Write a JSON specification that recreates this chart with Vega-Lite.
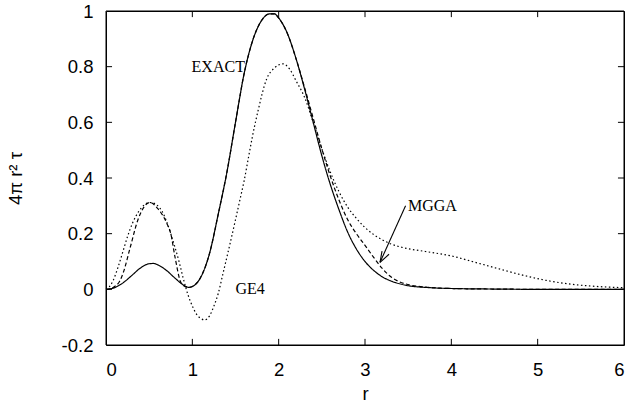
{
  "$schema": "https://vega.github.io/schema/vega-lite/v6.json",
  "width": 518,
  "height": 334,
  "autosize": {"type": "none"},
  "padding": {"left": 106, "top": 11, "right": 17, "bottom": 59},
  "background": "white",
  "config": {
    "view": {"stroke": "#000000", "strokeWidth": 1},
    "axis": {
      "domain": false,
      "grid": false,
      "ticks": false,
      "labelFont": "Liberation Sans",
      "labelFontSize": 18.5,
      "labelColor": "black",
      "titleFont": "Liberation Sans",
      "titleFontSize": 18.5,
      "titleFontWeight": "normal",
      "titleColor": "black"
    }
  },
  "resolve": {"axis": {"x": "independent", "y": "independent"}},
  "layer": [
    {
      "data": {"values": [
        {"model":"EXACT","r":0,"v":0},{"model":"EXACT","r":0.1,"v":0.006},{"model":"EXACT","r":0.2,"v":0.024},{"model":"EXACT","r":0.3,"v":0.05},{"model":"EXACT","r":0.4,"v":0.077},{"model":"EXACT","r":0.5,"v":0.092},{"model":"EXACT","r":0.55,"v":0.093},{"model":"EXACT","r":0.6,"v":0.088},{"model":"EXACT","r":0.7,"v":0.068},{"model":"EXACT","r":0.8,"v":0.04},{"model":"EXACT","r":0.9,"v":0.015},{"model":"EXACT","r":0.96,"v":0.007},{"model":"EXACT","r":1.0,"v":0.01},{"model":"EXACT","r":1.1,"v":0.045},{"model":"EXACT","r":1.2,"v":0.13},{"model":"EXACT","r":1.3,"v":0.27},{"model":"EXACT","r":1.4,"v":0.42},{"model":"EXACT","r":1.5,"v":0.6},{"model":"EXACT","r":1.6,"v":0.775},{"model":"EXACT","r":1.7,"v":0.895},{"model":"EXACT","r":1.8,"v":0.965},{"model":"EXACT","r":1.9,"v":0.99},{"model":"EXACT","r":1.95,"v":0.99},{"model":"EXACT","r":2.0,"v":0.975},{"model":"EXACT","r":2.1,"v":0.92},{"model":"EXACT","r":2.2,"v":0.83},{"model":"EXACT","r":2.3,"v":0.72},{"model":"EXACT","r":2.4,"v":0.6},{"model":"EXACT","r":2.5,"v":0.48},{"model":"EXACT","r":2.6,"v":0.375},{"model":"EXACT","r":2.7,"v":0.285},{"model":"EXACT","r":2.8,"v":0.205},{"model":"EXACT","r":2.9,"v":0.145},{"model":"EXACT","r":3.0,"v":0.1},{"model":"EXACT","r":3.1,"v":0.068},{"model":"EXACT","r":3.2,"v":0.045},{"model":"EXACT","r":3.3,"v":0.03},{"model":"EXACT","r":3.4,"v":0.02},{"model":"EXACT","r":3.5,"v":0.013},{"model":"EXACT","r":3.7,"v":0.007},{"model":"EXACT","r":4.0,"v":0.003},{"model":"EXACT","r":4.5,"v":0.001},{"model":"EXACT","r":5.0,"v":0},{"model":"EXACT","r":6.0,"v":0},
        {"model":"MGGA","r":0,"v":0},{"model":"MGGA","r":0.05,"v":0.002},{"model":"MGGA","r":0.1,"v":0.01},{"model":"MGGA","r":0.16,"v":0.03},{"model":"MGGA","r":0.2,"v":0.06},{"model":"MGGA","r":0.28,"v":0.15},{"model":"MGGA","r":0.37,"v":0.25},{"model":"MGGA","r":0.45,"v":0.3},{"model":"MGGA","r":0.51,"v":0.312},{"model":"MGGA","r":0.6,"v":0.29},{"model":"MGGA","r":0.7,"v":0.24},{"model":"MGGA","r":0.75,"v":0.2},{"model":"MGGA","r":0.8,"v":0.115},{"model":"MGGA","r":0.86,"v":0.03},{"model":"MGGA","r":0.9,"v":0.013},{"model":"MGGA","r":0.96,"v":0.007},{"model":"MGGA","r":1.0,"v":0.01},{"model":"MGGA","r":1.1,"v":0.045},{"model":"MGGA","r":1.2,"v":0.13},{"model":"MGGA","r":1.3,"v":0.27},{"model":"MGGA","r":1.4,"v":0.42},{"model":"MGGA","r":1.5,"v":0.6},{"model":"MGGA","r":1.6,"v":0.775},{"model":"MGGA","r":1.7,"v":0.895},{"model":"MGGA","r":1.8,"v":0.965},{"model":"MGGA","r":1.9,"v":0.99},{"model":"MGGA","r":1.95,"v":0.99},{"model":"MGGA","r":2.0,"v":0.975},{"model":"MGGA","r":2.1,"v":0.92},{"model":"MGGA","r":2.2,"v":0.83},{"model":"MGGA","r":2.3,"v":0.725},{"model":"MGGA","r":2.4,"v":0.615},{"model":"MGGA","r":2.5,"v":0.505},{"model":"MGGA","r":2.6,"v":0.405},{"model":"MGGA","r":2.7,"v":0.32},{"model":"MGGA","r":2.8,"v":0.25},{"model":"MGGA","r":2.9,"v":0.2},{"model":"MGGA","r":3.0,"v":0.158},{"model":"MGGA","r":3.1,"v":0.115},{"model":"MGGA","r":3.2,"v":0.075},{"model":"MGGA","r":3.3,"v":0.045},{"model":"MGGA","r":3.4,"v":0.027},{"model":"MGGA","r":3.5,"v":0.017},{"model":"MGGA","r":3.7,"v":0.008},{"model":"MGGA","r":4.0,"v":0.003},{"model":"MGGA","r":4.5,"v":0.001},{"model":"MGGA","r":5.0,"v":0},{"model":"MGGA","r":6.0,"v":0},
        {"model":"GE4","r":0,"v":0},{"model":"GE4","r":0.04,"v":0.01},{"model":"GE4","r":0.08,"v":0.03},{"model":"GE4","r":0.14,"v":0.08},{"model":"GE4","r":0.2,"v":0.14},{"model":"GE4","r":0.25,"v":0.19},{"model":"GE4","r":0.31,"v":0.24},{"model":"GE4","r":0.38,"v":0.28},{"model":"GE4","r":0.45,"v":0.305},{"model":"GE4","r":0.5,"v":0.312},{"model":"GE4","r":0.55,"v":0.31},{"model":"GE4","r":0.6,"v":0.3},{"model":"GE4","r":0.65,"v":0.28},{"model":"GE4","r":0.7,"v":0.245},{"model":"GE4","r":0.75,"v":0.2},{"model":"GE4","r":0.8,"v":0.15},{"model":"GE4","r":0.85,"v":0.095},{"model":"GE4","r":0.89,"v":0.045},{"model":"GE4","r":0.95,"v":-0.02},{"model":"GE4","r":1.0,"v":-0.06},{"model":"GE4","r":1.05,"v":-0.09},{"model":"GE4","r":1.1,"v":-0.105},{"model":"GE4","r":1.14,"v":-0.11},{"model":"GE4","r":1.2,"v":-0.095},{"model":"GE4","r":1.25,"v":-0.06},{"model":"GE4","r":1.3,"v":-0.015},{"model":"GE4","r":1.35,"v":0.05},{"model":"GE4","r":1.43,"v":0.155},{"model":"GE4","r":1.5,"v":0.25},{"model":"GE4","r":1.55,"v":0.32},{"model":"GE4","r":1.6,"v":0.39},{"model":"GE4","r":1.66,"v":0.49},{"model":"GE4","r":1.7,"v":0.555},{"model":"GE4","r":1.76,"v":0.64},{"model":"GE4","r":1.86,"v":0.755},{"model":"GE4","r":1.95,"v":0.795},{"model":"GE4","r":2.05,"v":0.81},{"model":"GE4","r":2.13,"v":0.79},{"model":"GE4","r":2.2,"v":0.75},{"model":"GE4","r":2.3,"v":0.69},{"model":"GE4","r":2.4,"v":0.6},{"model":"GE4","r":2.5,"v":0.505},{"model":"GE4","r":2.6,"v":0.42},{"model":"GE4","r":2.7,"v":0.35},{"model":"GE4","r":2.8,"v":0.295},{"model":"GE4","r":2.9,"v":0.255},{"model":"GE4","r":3.0,"v":0.222},{"model":"GE4","r":3.1,"v":0.197},{"model":"GE4","r":3.2,"v":0.178},{"model":"GE4","r":3.3,"v":0.163},{"model":"GE4","r":3.4,"v":0.153},{"model":"GE4","r":3.5,"v":0.146},{"model":"GE4","r":3.7,"v":0.136},{"model":"GE4","r":4.0,"v":0.12},{"model":"GE4","r":4.3,"v":0.095},{"model":"GE4","r":4.5,"v":0.078},{"model":"GE4","r":4.8,"v":0.053},{"model":"GE4","r":5.1,"v":0.032},{"model":"GE4","r":5.4,"v":0.018},{"model":"GE4","r":5.7,"v":0.01},{"model":"GE4","r":6.0,"v":0.006}
      ]},
      "mark": {"type": "line", "interpolate": "monotone", "color": "black", "strokeWidth": 1.2},
      "encoding": {
        "x": {"field": "r", "type": "quantitative",
              "scale": {"domain": [0, 6], "nice": false, "zero": false},
              "axis": {"orient": "bottom", "values": [0,1,2,3,4,5,6], "format": "~g", "labelPadding": 15, "title": "r", "titlePadding": 6}},
        "y": {"field": "v", "type": "quantitative",
              "scale": {"domain": [-0.2, 1], "nice": false, "zero": false},
              "axis": {"orient": "left", "values": [-0.2,0,0.2,0.4,0.6,0.8,1], "format": "~g", "labelExpr": "replace(datum.label, '\u2212', '-')", "labelPadding": 13, "title": "4π r² τ", "titlePadding": 36}},
        "detail": {"field": "model", "type": "nominal"},
        "strokeDash": {"field": "model", "type": "nominal",
                       "scale": {"domain": ["EXACT", "GE4", "MGGA"], "range": [[1, 0], [1.5, 2.5], [4, 2.5]]},
                       "legend": null}
      }
    },
    {
      "data": {"values": [
        {"label": "EXACT", "r": 1.30, "v": 0.80},
        {"label": "GE4", "r": 1.67, "v": 0.0},
        {"label": "MGGA", "r": 3.78, "v": 0.298}
      ]},
      "mark": {"type": "text", "font": "Liberation Serif", "fontSize": 16, "color": "black", "align": "center", "baseline": "middle"},
      "encoding": {
        "x": {"field": "r", "type": "quantitative", "axis": null},
        "y": {"field": "v", "type": "quantitative", "axis": null},
        "text": {"field": "label"}
      }
    },
    {
      "data": {"values": [
        {"r": 3.47, "v": 0.30, "r2": 3.174, "v2": 0.097},
        {"r": 3.174, "v": 0.097, "r2": 3.278, "v2": 0.126},
        {"r": 3.174, "v": 0.097, "r2": 3.197, "v2": 0.137}
      ]},
      "mark": {"type": "rule", "color": "black", "strokeWidth": 1.1},
      "encoding": {
        "x": {"field": "r", "type": "quantitative", "axis": null},
        "y": {"field": "v", "type": "quantitative", "axis": null},
        "x2": {"field": "r2"},
        "y2": {"field": "v2"}
      }
    },
    {
      "data": {"values": [{"t": 1}, {"t": 2}, {"t": 3}, {"t": 4}, {"t": 5}]},
      "layer": [
        {
          "mark": {"type": "rule", "color": "black", "strokeWidth": 1},
          "encoding": {
            "x": {"field": "t", "type": "quantitative", "axis": null},
            "y": {"datum": -0.2, "type": "quantitative", "axis": null},
            "y2": {"datum": -0.178}
          }
        },
        {
          "mark": {"type": "rule", "color": "black", "strokeWidth": 1},
          "encoding": {
            "x": {"field": "t", "type": "quantitative", "axis": null},
            "y": {"datum": 1, "type": "quantitative", "axis": null},
            "y2": {"datum": 0.978}
          }
        }
      ]
    },
    {
      "data": {"values": [{"t": 0}, {"t": 0.2}, {"t": 0.4}, {"t": 0.6}, {"t": 0.8}]},
      "layer": [
        {
          "mark": {"type": "rule", "color": "black", "strokeWidth": 1},
          "encoding": {
            "y": {"field": "t", "type": "quantitative", "axis": null},
            "x": {"datum": 0, "type": "quantitative", "axis": null},
            "x2": {"datum": 0.07}
          }
        },
        {
          "mark": {"type": "rule", "color": "black", "strokeWidth": 1},
          "encoding": {
            "y": {"field": "t", "type": "quantitative", "axis": null},
            "x": {"datum": 6, "type": "quantitative", "axis": null},
            "x2": {"datum": 5.93}
          }
        }
      ]
    },
    {
      "data": {"values": [{}]},
      "layer": [
        {"mark": {"type": "rule", "color": "black", "strokeWidth": 1},
         "encoding": {"y": {"datum": -0.2, "type": "quantitative", "axis": null}}},
        {"mark": {"type": "rule", "color": "black", "strokeWidth": 1},
         "encoding": {"y": {"datum": 1, "type": "quantitative", "axis": null}}},
        {"mark": {"type": "rule", "color": "black", "strokeWidth": 1},
         "encoding": {"x": {"datum": 0, "type": "quantitative", "axis": null}}},
        {"mark": {"type": "rule", "color": "black", "strokeWidth": 1},
         "encoding": {"x": {"datum": 6, "type": "quantitative", "axis": null}}}
      ]
    }
  ]
}
